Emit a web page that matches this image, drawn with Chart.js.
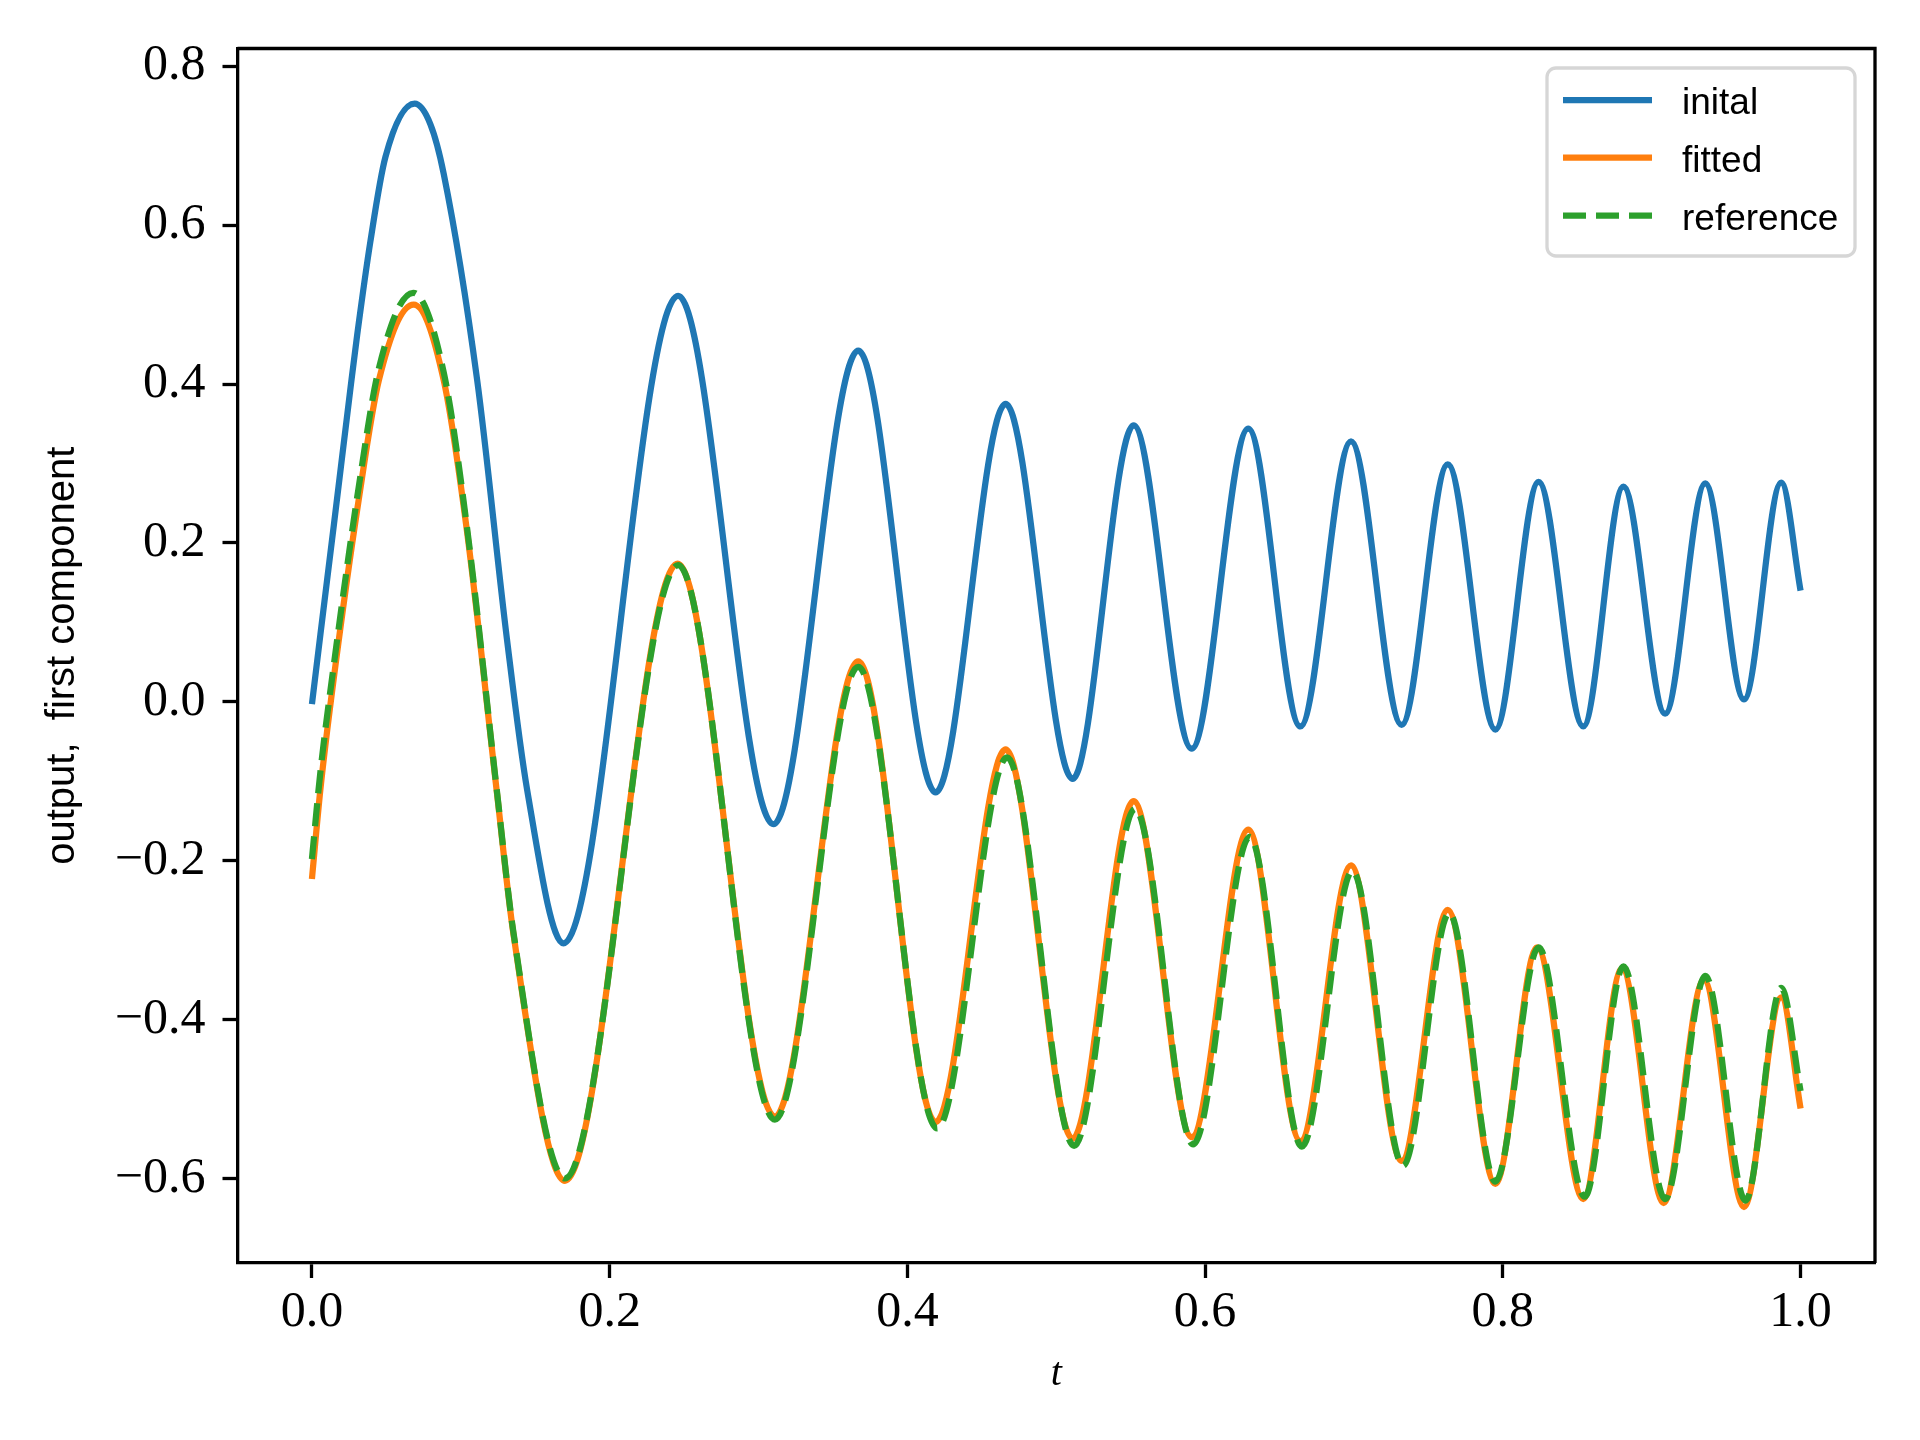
<!DOCTYPE html>
<html>
<head>
<meta charset="utf-8">
<script src="https://cdn.jsdelivr.net/npm/chart.js@4.4.1/dist/chart.umd.min.js"></script>
<style>
  body { margin: 0; background: #fff; }
  canvas { display: block; }
</style>
</head>
<body>
<canvas id="chart" width="1920" height="1440"></canvas>
<script>
// values (extrema + a few points on the first swing)
const tInitial = [0, 0.0057, 0.0147, 0.0259, 0.0304, 0.0393, 0.0494, 0.069, 0.0796, 0.0885, 0.111, 0.131, 0.1445, 0.169,
  0.246, 0.310, 0.367, 0.419, 0.466, 0.511, 0.552, 0.591, 0.629, 0.664, 0.698, 0.732,
  0.763, 0.795, 0.824, 0.854, 0.881, 0.909, 0.936, 0.962, 0.987, 1.0];
const yInitial = [-0.003, 0.085, 0.222, 0.395, 0.462, 0.58, 0.686, 0.753, 0.727, 0.665, 0.405, 0.079, -0.110, -0.304,
  0.511, -0.154, 0.442, -0.114, 0.375, -0.097, 0.348, -0.059, 0.344, -0.031, 0.328, -0.029,
  0.299, -0.035, 0.277, -0.031, 0.271, -0.015, 0.275, 0.003, 0.276, 0.14];

const tFitted = [0, 0.0057, 0.0146, 0.0314, 0.045, 0.0684, 0.0885, 0.104, 0.124, 0.1355, 0.170,
  0.2457, 0.311, 0.367, 0.419, 0.466, 0.511, 0.552, 0.591, 0.629, 0.664, 0.698, 0.732,
  0.763, 0.795, 0.823, 0.854, 0.880, 0.908, 0.935, 0.962, 0.987, 1.0];
const yFitted = [-0.223, -0.110, 0.0285, 0.254, 0.405, 0.500, 0.405, 0.217, -0.110, -0.294, -0.603,
  0.174, -0.522, 0.051, -0.529, -0.060, -0.550, -0.125, -0.548, -0.161, -0.553, -0.206, -0.578,
  -0.262, -0.607, -0.309, -0.626, -0.336, -0.631, -0.350, -0.636, -0.372, -0.512];

const tReference = [0, 0.0057, 0.0146, 0.0314, 0.045, 0.068, 0.0885, 0.104, 0.124, 0.1355, 0.170,
  0.246, 0.311, 0.367, 0.420, 0.467, 0.512, 0.553, 0.592, 0.630, 0.665, 0.699, 0.733,
  0.764, 0.795, 0.824, 0.855, 0.881, 0.909, 0.936, 0.963, 0.987, 1.0];
const yReference = [-0.198, -0.088, 0.045, 0.27, 0.42, 0.515, 0.415, 0.222, -0.108, -0.292, -0.600,
  0.172, -0.526, 0.044, -0.537, -0.070, -0.559, -0.135, -0.557, -0.170, -0.560, -0.213, -0.584,
  -0.266, -0.604, -0.309, -0.623, -0.333, -0.626, -0.345, -0.628, -0.360, -0.490];

const xTicks = [0.0, 0.2, 0.4, 0.6, 0.8, 1.0];
const yTicks = [-0.6, -0.4, -0.2, 0.0, 0.2, 0.4, 0.6, 0.8];

const toPoints = (xs, ys) => xs.map((x, i) => ({ x: x, y: ys[i] }));
const fmt = v => (v < -1e-9 ? "\u2212" + Math.abs(v).toFixed(1) : Math.abs(v).toFixed(1));

const LW = 6.25;

// top/right spines + legend box, matplotlib style
const frameAndLegend = {
  id: "frameAndLegend",
  afterDraw(chart) {
    const { ctx, chartArea: a } = chart;
    ctx.save();
    ctx.strokeStyle = "#000";
    ctx.lineWidth = 3.3;
    ctx.beginPath();
    ctx.moveTo(a.left, a.top);
    ctx.lineTo(a.right, a.top);
    ctx.lineTo(a.right, a.bottom);
    ctx.stroke();

    // legend
    const bx = 1547, by = 68, bw = 308, bh = 188, r = 9;
    ctx.beginPath();
    ctx.roundRect(bx, by, bw, bh, r);
    ctx.fillStyle = "rgba(255,255,255,0.8)";
    ctx.fill();
    ctx.strokeStyle = "#d6d6d6";
    ctx.lineWidth = 3.3;
    ctx.stroke();

    const rows = [100, 157.7, 215.7];
    chart.data.datasets.forEach((ds, i) => {
      const y = rows[i];
      ctx.beginPath();
      ctx.strokeStyle = ds.borderColor;
      ctx.lineWidth = LW;
      ctx.setLineDash(ds.borderDash || []);
      ctx.lineCap = "butt";
      ctx.moveTo(1563, y);
      ctx.lineTo(1652, y);
      ctx.stroke();
      ctx.setLineDash([]);
      ctx.fillStyle = "#000";
      ctx.font = "37px 'Liberation Sans'";
      ctx.textBaseline = "middle";
      ctx.fillText(ds.label, 1682, y + 4);
    });
    ctx.restore();
  }
};

new Chart(document.getElementById("chart").getContext("2d"), {
  type: "line",
  data: {
    datasets: [
      { label: "inital", data: toPoints(tInitial, yInitial), borderColor: "#1f77b4", order: 2 },
      { label: "fitted", data: toPoints(tFitted, yFitted), borderColor: "#ff7f0e", order: 1 },
      { label: "reference", data: toPoints(tReference, yReference), borderColor: "#2ca02c",
        borderDash: [23, 10], order: 0 }
    ]
  },
  options: {
    responsive: false,
    animation: false,
    devicePixelRatio: 1,
    layout: { padding: { top: 48.5, right: 45, left: 0, bottom: 0 } },
    datasets: {
      line: {
        borderWidth: LW,
        pointRadius: 0,
        fill: false,
        cubicInterpolationMode: "monotone"
      }
    },
    plugins: {
      legend: { display: false },
      tooltip: { enabled: false }
    },
    scales: {
      x: {
        type: "linear",
        min: -0.05,
        max: 1.05,
        afterBuildTicks: s => { s.ticks = xTicks.map(v => ({ value: v })); },
        afterFit: s => { s.height = 177; },
        ticks: {
          callback: v => fmt(v),
          font: { family: "'Liberation Serif'", size: 50 },
          color: "#000",
          padding: 5,
          maxRotation: 0
        },
        grid: { drawOnChartArea: false, drawTicks: true, tickLength: 15, tickWidth: 3.3, tickColor: "#000" },
        border: { display: true, color: "#000", width: 3.3 },
        title: {
          display: true,
          text: "t",
          color: "#000",
          font: { family: "'Liberation Serif'", style: "italic", size: 40 },
          padding: { top: 0, bottom: 42 }
        }
      },
      y: {
        type: "linear",
        min: -0.7065,
        max: 0.8225,
        afterBuildTicks: s => { s.ticks = yTicks.map(v => ({ value: v })); },
        afterFit: s => { s.width = 237.5; },
        ticks: {
          callback: v => fmt(v),
          font: { family: "'Liberation Serif'", size: 50 },
          color: "#000",
          padding: 17
        },
        grid: { drawOnChartArea: false, drawTicks: true, tickLength: 15, tickWidth: 3.3, tickColor: "#000" },
        border: { display: true, color: "#000", width: 3.3 },
        title: {
          display: true,
          text: "output,  first component",
          color: "#000",
          font: { family: "'Liberation Sans'", size: 40 },
          padding: { top: 39, bottom: 0 }
        }
      }
    }
  },
  plugins: [frameAndLegend]
});
</script>
</body>
</html>
